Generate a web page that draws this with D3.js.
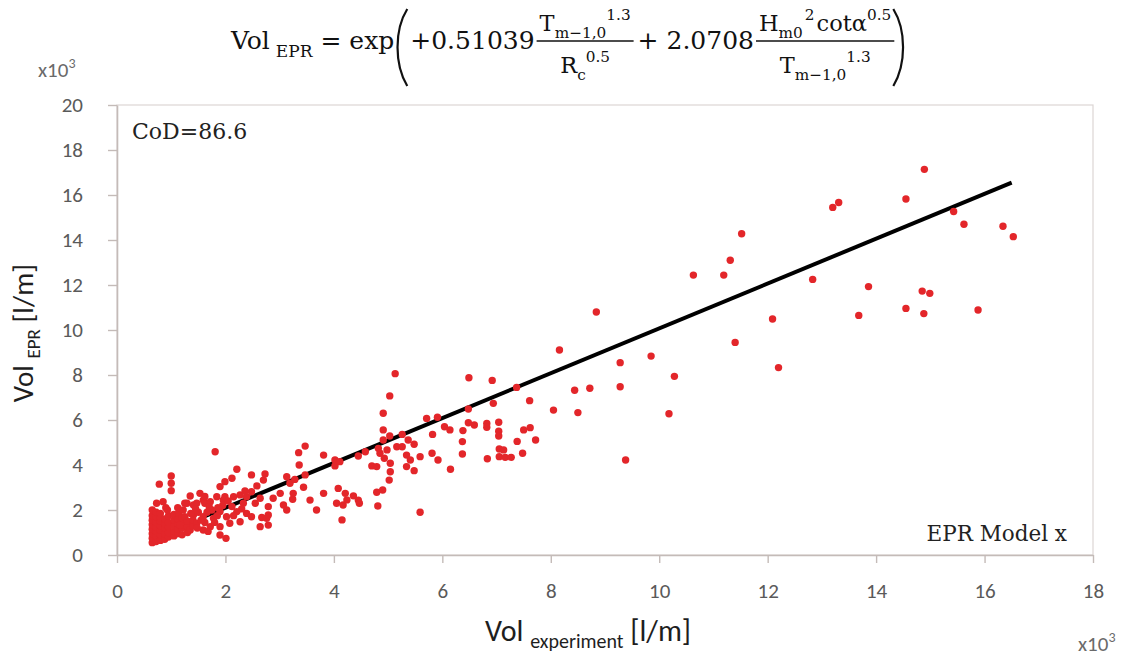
<!DOCTYPE html>
<html>
<head>
<meta charset="utf-8">
<script src="https://cdn.jsdelivr.net/npm/d3@7/dist/d3.min.js"></script>
<style>
  body { margin: 0; background: #fff; }
</style>
</head>
<body>
<svg id="chart" width="1132" height="656"></svg>
<script>
// ---- data (units x10^3 l/m) ----
var xTicks = [0, 2, 4, 6, 8, 10, 12, 14, 16, 18];
var yTicks = [0, 2, 4, 6, 8, 10, 12, 14, 16, 18, 20];

// fitted EPR line, drawn between its two ends
var fitLine = [[1.6, 1.7], [16.5, 16.55]];

// dense low-volume cluster
var clusterPts = [
  [0.65,0.55],[0.65,0.75],[0.65,0.95],[0.65,1.15],[0.65,1.35],[0.65,1.55],[0.65,1.75],[0.65,2.0],
  [0.72,0.6],[0.72,0.85],[0.72,1.05],[0.72,1.25],[0.72,1.45],[0.72,1.7],[0.72,1.9],[0.73,2.3],
  [0.8,0.65],[0.8,0.9],[0.8,1.1],[0.8,1.3],[0.8,1.5],[0.8,1.65],[0.8,1.85],[0.78,3.15],
  [0.88,0.7],[0.88,0.95],[0.88,1.2],[0.88,1.4],[0.88,1.6],[0.9,2.1],[0.85,2.37],
  [0.95,0.8],[0.95,1.0],[0.95,1.25],[0.95,1.45],[0.95,1.75],[0.93,2.0],
  [1.0,2.86],[1.0,3.19],[1.0,3.51],
  [1.05,0.85],[1.05,1.05],[1.05,1.3],[1.05,1.55],[1.05,1.8],
  [1.12,0.95],[1.12,1.15],[1.12,1.4],[1.12,1.6],[1.14,1.85],[1.12,2.1],
  [1.2,0.9],[1.2,1.2],[1.2,1.45],[1.2,1.65],[1.22,2.0],[1.16,1.33],[1.25,1.7],[1.25,2.3],
  [1.3,1.0],[1.3,1.25],[1.3,1.5],[1.29,2.3],[1.35,2.62],[1.35,1.11],
  [1.4,1.3],[1.41,1.78],[1.41,2.22],[1.4,1.55],[1.47,1.41],[1.47,2.3],
  [1.53,2.74],[1.5,1.9],[1.59,1.11],[1.59,1.7],[1.59,2.44],[1.62,2.3],[1.62,1.45],
  [1.72,1.26],[1.72,2.37],[1.75,2.0],[1.78,1.63],[1.8,1.45],[1.81,4.59],[1.84,2.59],
  [1.9,0.89],[1.9,1.26],[1.9,1.93],[1.9,3.04],[1.96,2.44],[1.99,2.59],[1.99,3.26],[2.01,0.74],
  [2.08,1.41],[2.12,2.15],[2.12,3.41],[2.15,2.59],[2.21,1.93],[2.21,3.81],[2.27,1.48],[2.27,2.67],
  [2.33,2.3],[2.39,1.85],[2.39,2.59],[2.48,1.7],[2.48,2.81],[2.48,3.56],[2.55,2.3],[2.58,3.07],
  [1.36,1.85],[1.45,2.05],[1.55,1.55],[1.66,1.9],[1.7,2.15],[1.85,1.75],[1.95,2.2],[2.02,1.7],
  [2.05,2.4],[2.15,1.75],[2.3,2.05],[2.36,2.85],[1.62,2.6],[1.86,2.1],[1.48,1.2],[1.68,1.05]
];

// the wider spread of tests
var spreadPts = [
  [2.64,2.52],[2.64,1.26],[2.67,1.67],[2.70,3.33],[2.73,3.60],[2.76,1.63],[2.79,2.15],[2.79,1.78],[2.79,1.33],
  [2.88,2.52],[3.01,2.74],[3.07,2.22],[3.13,3.48],[3.13,2.00],[3.19,3.19],[3.24,2.48],[3.25,2.74],
  [3.28,3.36],[3.35,4.55],[3.36,4.00],[3.44,3.01],[3.47,4.84],[3.47,3.56],[3.56,2.44],[3.68,2.00],
  [3.81,4.44],[3.81,2.74],[4.02,4.22],[4.02,3.96],[4.05,2.30],[4.08,2.96],[4.11,4.15],[4.15,1.56],
  [4.17,2.22],[4.21,2.74],[4.24,2.45],[4.36,2.63],[4.45,2.44],[4.45,4.40],[4.47,2.30],[4.58,4.59],
  [4.70,3.96],[4.79,3.93],[4.79,2.79],[4.81,2.18],[4.82,4.74],[4.85,4.52],[4.90,2.89],[4.91,6.30],
  [4.91,5.56],[4.91,5.11],[4.93,4.30],[4.98,4.67],[5.02,3.33],[5.03,7.07],[5.03,5.29],[5.04,4.08],
  [5.04,3.70],[5.13,8.06],[5.16,4.81],[5.26,5.36],[5.26,4.81],[5.34,4.44],[5.34,3.93],[5.37,5.11],
  [5.41,4.22],[5.48,4.92],[5.48,3.75],[5.59,4.37],[5.59,1.90],
  [5.71,6.07],[5.81,4.52],[5.82,5.36],[5.91,6.12],[5.92,4.22],[6.04,5.70],[6.14,5.56],[6.15,3.81],
  [6.37,5.04],[6.37,4.49],[6.38,5.53],[6.48,6.49],[6.48,5.88],[6.49,7.88],[6.59,5.78],[6.82,5.85],
  [6.82,5.68],[6.83,4.28],[6.92,7.76],[6.94,6.74],[7.04,5.90],[7.04,5.50],[7.04,5.29],[7.05,4.71],
  [7.05,4.37],[7.13,4.67],[7.16,4.34],[7.27,4.34],[7.37,7.45],[7.38,5.05],[7.48,4.52],[7.50,5.56],
  [7.61,6.86],[7.62,5.66],[7.72,5.11],
  [8.05,6.44],[8.16,9.11],[8.44,7.32],[8.50,6.33],[8.72,7.41],[8.84,10.8],
  [9.28,8.55],[9.28,7.48],[9.38,4.22],[9.85,8.84],[10.18,6.28],[10.28,7.94],[10.63,12.44],
  [11.19,12.44],[11.31,13.10],[11.40,9.45],[11.52,14.28],[12.09,10.49],[12.20,8.33],[12.83,12.25],
  [13.20,15.45],[13.31,15.67],[13.68,10.65],[13.86,11.93],[14.55,15.82],[14.55,10.96],[14.85,11.73],
  [14.88,10.73],[14.89,17.14],[14.99,11.63],[15.43,15.27],[15.62,14.70],[15.88,10.89],[16.34,14.61],
  [16.53,14.15]
];

var codText = "CoD=86.6";
var modelText = "EPR Model x";

// ---- layout ----
var svg = d3.select("#chart");
var SERIF = "'DejaVu Serif', serif";
var SANS = "Carlito, Lato, 'Open Sans', sans-serif";

var x = d3.scaleLinear().domain([0, 18]).range([117, 1093]);
var y = d3.scaleLinear().domain([0, 20]).range([555, 105]);

// plot area frame
svg.append("rect")
    .attr("x", x(0)).attr("y", y(20))
    .attr("width", x(18) - x(0)).attr("height", y(0) - y(20))
    .attr("fill", "none").attr("stroke", "#dcd6d4").attr("stroke-width", 1.2);

var xAxis = svg.append("g")
    .attr("transform", "translate(0," + y(0) + ")")
    .call(d3.axisBottom(x).tickValues(xTicks).tickSize(8).tickSizeOuter(0).tickPadding(20));
var yAxis = svg.append("g")
    .attr("transform", "translate(" + x(0) + ",0)")
    .call(d3.axisLeft(y).tickValues(yTicks).tickSize(9).tickSizeOuter(0).tickPadding(25));

[xAxis, yAxis].forEach(function (a) {
    a.select(".domain").attr("stroke", "#c4bbb8").attr("stroke-width", 1.6);
    a.selectAll(".tick line").attr("stroke", "#c4bbb8").attr("stroke-width", 1.4);
    a.selectAll(".tick text").attr("fill", "#5a5a5a")
        .style("font-family", SANS).style("font-size", "21px");
});

// fit line
svg.append("path")
    .datum(fitLine)
    .attr("d", d3.line().x(function (d) { return x(d[0]); }).y(function (d) { return y(d[1]); }))
    .attr("stroke", "#000").attr("stroke-width", 4).attr("fill", "none");

// points
svg.append("g").selectAll("circle")
    .data(clusterPts.concat(spreadPts))
    .enter().append("circle")
    .attr("cx", function (d) { return x(d[0]); })
    .attr("cy", function (d) { return y(d[1]); })
    .attr("r", 3.7)
    .attr("fill", "#e3262a");

// annotations inside plot
svg.append("text").attr("x", 132).attr("y", 139)
    .style("font-family", SERIF).style("font-size", "22px").attr("fill", "#222")
    .text(codText);
svg.append("text").attr("x", 1067).attr("y", 541).attr("text-anchor", "end")
    .style("font-family", SERIF).style("font-size", "21.5px").attr("fill", "#222")
    .text(modelText);

// x10^3 multipliers
function mult(px, py) {
    var t = svg.append("text").attr("x", px).attr("y", py)
        .style("font-family", SANS).style("font-size", "21px").attr("fill", "#6a6a6a");
    t.append("tspan").text("x10");
    t.append("tspan").attr("dy", -9).style("font-size", "14px").text("3");
}
mult(38, 77);
mult(1078, 651);

// axis titles
var xt = svg.append("text").attr("x", 588).attr("y", 641).attr("text-anchor", "middle")
    .style("font-family", SANS).style("font-size", "30px").attr("fill", "#1e1e1e");
xt.append("tspan").text("Vol ");
xt.append("tspan").attr("dy", 7).style("font-size", "20px").text("experiment");
xt.append("tspan").attr("dy", -7).text(" [l/m]");

var yt = svg.append("text").attr("transform", "translate(33,333) rotate(-90)").attr("text-anchor", "middle")
    .style("font-family", SANS).style("font-size", "29px").attr("fill", "#1e1e1e");
yt.append("tspan").text("Vol ");
yt.append("tspan").attr("dy", 7).style("font-size", "19px").text("EPR");
yt.append("tspan").attr("dy", -7).text("  [l/m]");

// ---- formula at the top ----
var FS = 25;
var FFS = 22.5;
var fg = svg.append("g");

function run(g, x0, base, pieces, fs) {
    var cx = x0;
    pieces.forEach(function (p) {
        var size = fs, dy = 0;
        if (p[1] === "sub") { size = fs * 0.68; dy = fs * 0.32; }
        if (p[1] === "sup") { size = fs * 0.68; dy = -fs * 0.5; }
        var t = g.append("text").attr("x", cx).attr("y", base + dy)
            .style("font-family", SERIF).style("font-size", size + "px").attr("fill", "#111")
            .text(p[0]);
        cx += t.node().getComputedTextLength() + (p[2] || 0);
    });
    return cx;
}

function frac(g, x0, num, den) {
    var a = g.append("g"), b = g.append("g");
    var wn = run(a, 0, 31, num, FFS);
    var wd = run(b, 0, 73, den, FFS);
    var w = Math.max(wn, wd) + 6;
    a.attr("transform", "translate(" + (x0 + (w - wn) / 2) + ",0)");
    b.attr("transform", "translate(" + (x0 + (w - wd) / 2) + ",0)");
    g.append("line").attr("x1", x0).attr("x2", x0 + w).attr("y1", 41).attr("y2", 41)
        .attr("stroke", "#111").attr("stroke-width", 1.4);
    return x0 + w;
}

function paren(g, px, left) {
    var s = left ? 1 : -1;
    g.append("path")
        .attr("d", "M" + (px + s * 9) + ",9 C" + (px - s * 4) + ",30 " + (px - s * 4) + ",64 " + (px + s * 9) + ",86")
        .attr("fill", "none").attr("stroke", "#111").attr("stroke-width", 2.2);
}

var cx = run(fg, 231, 49, [["Vol", "n", 6], ["EPR", "sub", 8], ["= exp", "n", 0]], FS);
paren(fg, cx + 4, true);
cx = run(fg, cx + 16, 49, [["+0.51039", "n", 2]], FS);
cx = frac(fg, cx, [["T", "n"], ["m\u22121,0", "sub"], ["1.3", "sup"]], [["R", "n"], ["c", "sub"], ["0.5", "sup"]]);
cx = run(fg, cx + 4, 49, [["+ 2.0708", "n", 2]], FS);
cx = frac(fg, cx, [["H", "n"], ["m0", "sub", 2], ["2", "sup", 2], ["cot\u03b1", "n"], ["0.5", "sup"]],
    [["T", "n"], ["m\u22121,0", "sub"], ["1.3", "sup"]]);
paren(fg, cx + 8, false);
</script>
</body>
</html>
